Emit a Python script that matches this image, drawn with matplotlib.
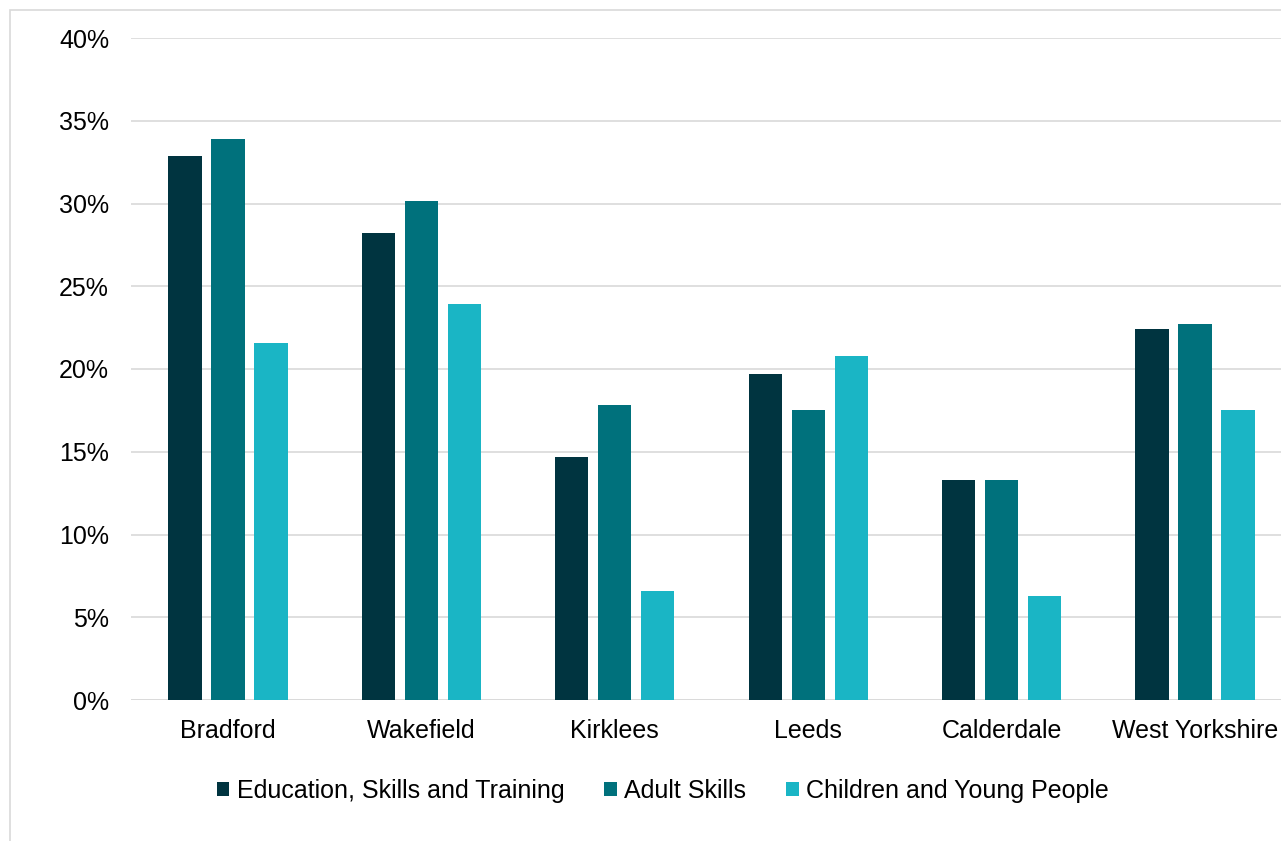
import matplotlib
matplotlib.use("Agg")
import matplotlib.pyplot as plt
from matplotlib.patches import Patch, Rectangle
from matplotlib.ticker import FuncFormatter
import numpy as np

plt.rcParams['font.family'] = ['Liberation Sans', 'DejaVu Sans']

areas = ["Bradford", "Wakefield", "Kirklees", "Leeds", "Calderdale", "West Yorkshire"]
series = ["Education, Skills and Training", "Adult Skills", "Children and Young People"]

education = [32.9, 28.2, 14.7, 19.7, 13.3, 22.4]
adult = [33.9, 30.15, 17.8, 17.5, 13.3, 22.7]
children = [21.6, 23.9, 6.6, 20.8, 6.3, 17.5]

colors = ['#003440', '#00717C', '#1AB5C5']

W, H = 1281, 841
fig = plt.figure(figsize=(W / 100, H / 100), dpi=100)

# outer chart border (cropped on right and bottom)
fig.patches.append(Rectangle((10 / W, -0.1), 1.2, 1 - 10 / H + 0.1,
                             transform=fig.transFigure, fill=False,
                             edgecolor='#D9D9D9', linewidth=1.2))

left, right = 131.3, 1291.7
top, bottom = 38, 700
ax = fig.add_axes([left / W, 1 - bottom / H, (right - left) / W, (bottom - top) / H])

x = np.arange(len(areas))
bw = 0.172
step = 0.222
for i, (vals, c) in enumerate(zip([education, adult, children], colors)):
    ax.bar(x + (i - 1) * step, vals, width=bw, color=c, zorder=3)

ax.set_xlim(-0.5, len(areas) - 0.5)
ax.set_ylim(0, 40)
ax.set_yticks(np.arange(0, 41, 5))
ax.yaxis.set_major_formatter(FuncFormatter(lambda v, p: f"{v:.0f}%"))
ax.set_xticks(x)
ax.set_xticklabels(areas)
ax.grid(axis='y', color='#D9D9D9', linewidth=1.2, zorder=0)
for s in ax.spines.values():
    s.set_visible(False)
ax.axhline(0, color='#D9D9D9', linewidth=1.2, zorder=2)
ax.tick_params(axis='both', length=0, labelsize=18, colors='black')
ax.tick_params(axis='y', pad=16)
ax.tick_params(axis='x', pad=14)

handles = [Patch(facecolor=c, edgecolor='none') for c in colors]
fig.legend(handles, series, loc='center', ncol=3, frameon=False,
           bbox_to_anchor=(663 / W, 1 - 791 / H), fontsize=18,
           handlelength=0.5, handleheight=0.5, handletextpad=0.3,
           columnspacing=1.6)

fig.savefig("out.png", dpi=100)
